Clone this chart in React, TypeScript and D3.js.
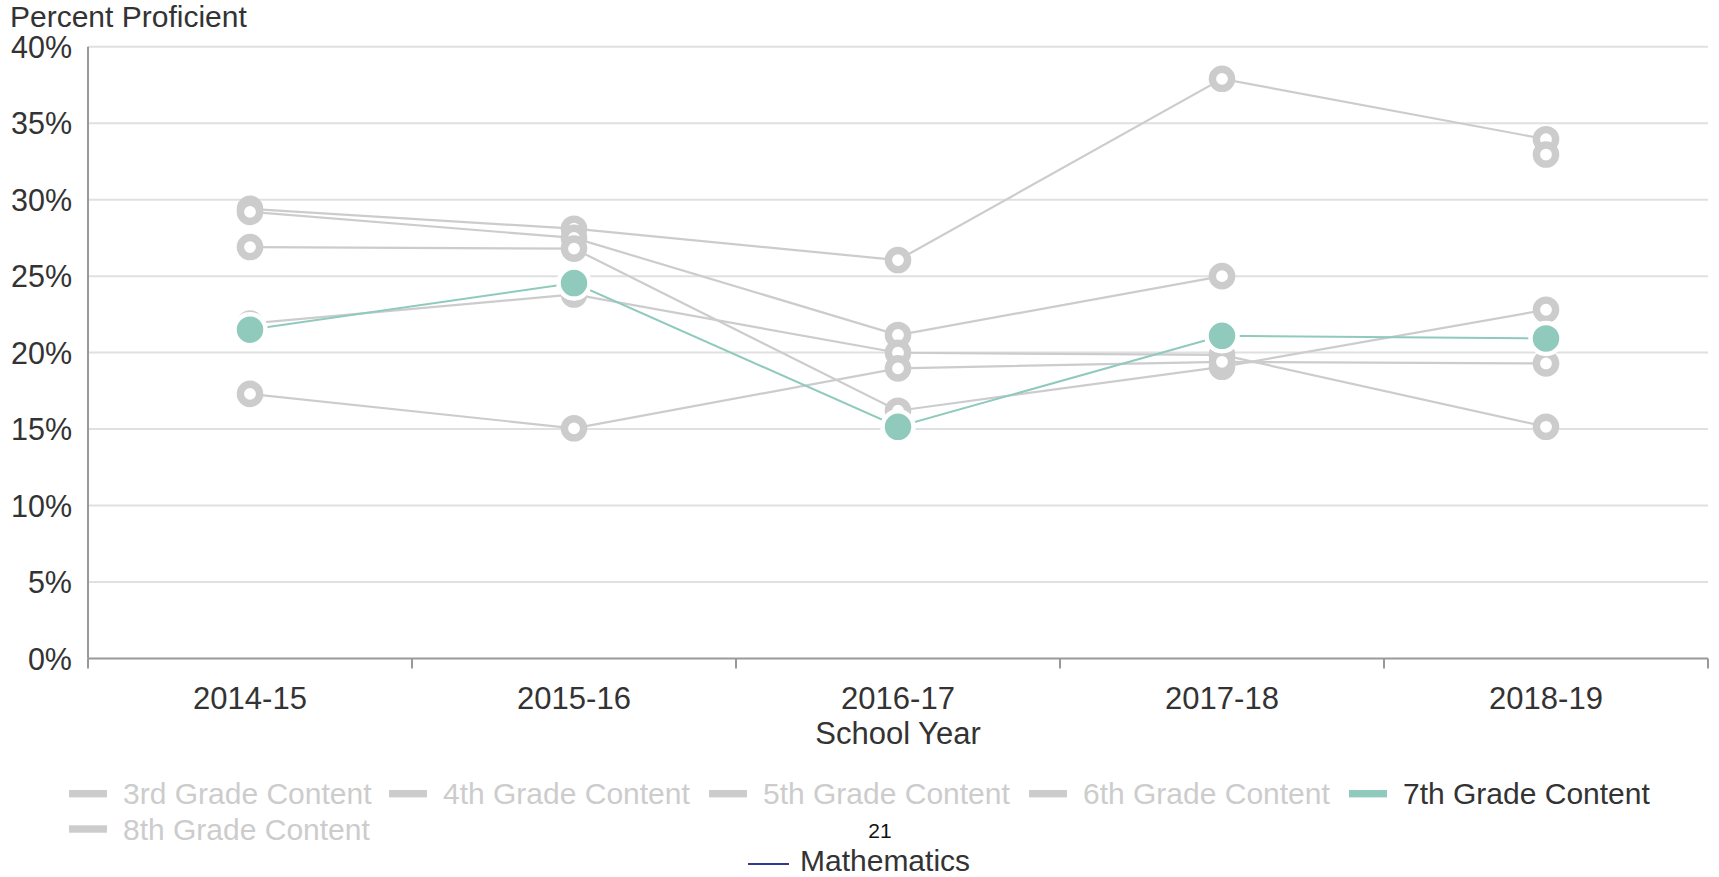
import React from "react";
import * as d3 from "d3";

const years = ["2014-15", "2015-16", "2016-17", "2017-18", "2018-19"];
const seriesNames = [
  "3rd Grade Content",
  "4th Grade Content",
  "5th Grade Content",
  "6th Grade Content",
  "7th Grade Content",
  "8th Grade Content",
];
const grade3 = [29.4, 28.1, 26.05, 37.9, 33.95];
const grade4 = [29.2, 27.5, 21.15, 25.0, null];
const grade5 = [26.9, 26.8, 16.2, 19.07, 22.8];
const grade6 = [21.9, 23.8, 19.99, 19.85, 15.15];
const grade7 = [21.5, 24.55, 15.15, 21.1, 20.93];
const grade8 = [17.3, 15.05, 18.97, 19.4, 19.29];
const unlinkedPoint = [null, null, null, null, 32.95];
const yTicks = [0, 5, 10, 15, 20, 25, 30, 35, 40];
const activeIndex = 4;

const FONT = "'Liberation Sans', Arial, Helvetica, sans-serif";
const GREY = "#cccccc";
const TEAL = "#8fcabd";
const TEXT = "#333333";

type V = number | null;

export default function App() {
  const W = 1719;
  const H = 877;
  const left = 88;
  const right = 1708;
  const top = 46.7;
  const bottom = 658.5;

  const x = d3.scaleBand<string>().domain(years).range([left, right]).padding(0);
  const y = d3.scaleLinear().domain([0, 40]).range([bottom, top]);
  const cx = (yr: string) => (x(yr) as number) + x.bandwidth() / 2;

  const allSeries: V[][] = [grade3, grade4, grade5, grade6, grade7, grade8];
  const lineGen = d3
    .line<[string, V]>()
    .defined((d) => d[1] != null)
    .x((d) => cx(d[0]))
    .y((d) => y(d[1] as number));

  const pairs = (vals: V[]) => years.map((yr, i) => [yr, vals[i]] as [string, V]);

  const greyMarker = (yr: string, v: V, key: string) =>
    v == null ? null : (
      <circle key={key} cx={cx(yr)} cy={y(v)} r={9.6} fill="#ffffff" stroke={GREY} strokeWidth={7.4} />
    );

  const tickXs = [...years.map((yr) => x(yr) as number), right];

  const legendPitch = 320;
  const legendItems = seriesNames.map((name, i) => {
    const row = i < 5 ? 0 : 1;
    const col = i < 5 ? i : i - 5;
    return { name, i, x: 69 + col * legendPitch, cy: row === 0 ? 793.7 : 829 };
  });

  return (
    <svg
      width={W}
      height={H}
      style={{ position: "absolute", left: 0, top: 0, background: "#fff" }}
      fontFamily={FONT}
    >
      <rect x={0} y={0} width={W} height={H} fill="#ffffff" />
      <text x={10} y={27} fontSize={30} fill={TEXT}>
        Percent Proficient
      </text>

      {/* gridlines */}
      {yTicks.map((t) =>
        t === 0 ? null : (
          <line key={"g" + t} x1={left} x2={right} y1={y(t)} y2={y(t)} stroke="#e0e0e0" strokeWidth={2} />
        )
      )}
      {/* y labels */}
      {yTicks.map((t) => (
        <text key={"yl" + t} x={72} y={y(t) + 11} fontSize={30.5} fill={TEXT} textAnchor="end">
          {t + "%"}
        </text>
      ))}
      {/* axes */}
      <line x1={left} x2={left} y1={top} y2={bottom} stroke="#999999" strokeWidth={2} />
      <line x1={left} x2={right} y1={bottom} y2={bottom} stroke="#999999" strokeWidth={2} />
      {tickXs.map((tx, i) => (
        <line key={"t" + i} x1={tx} x2={tx} y1={bottom} y2={bottom + 10} stroke="#999999" strokeWidth={2} />
      ))}
      {years.map((yr) => (
        <text key={"xl" + yr} x={cx(yr)} y={709} fontSize={31} fill={TEXT} textAnchor="middle">
          {yr}
        </text>
      ))}
      <text x={(left + right) / 2} y={744} fontSize={31} fill={TEXT} textAnchor="middle">
        School Year
      </text>

      {/* grey series */}
      {allSeries.map((vals, si) =>
        si === activeIndex ? null : (
          <g key={"s" + si}>
            <path d={lineGen(pairs(vals)) || ""} fill="none" stroke={GREY} strokeWidth={2.2} />
            {years.map((yr, i) => greyMarker(yr, vals[i], "m" + si + "-" + i))}
          </g>
        )
      )}
      <g>{years.map((yr, i) => greyMarker(yr, unlinkedPoint[i], "u" + i))}</g>

      {/* active series */}
      <g>
        <path d={lineGen(pairs(allSeries[activeIndex])) || ""} fill="none" stroke={TEAL} strokeWidth={2} />
        {years.map((yr, i) => {
          const v = allSeries[activeIndex][i];
          return v == null ? null : (
            <circle key={"a" + i} cx={cx(yr)} cy={y(v)} r={15.5} fill={TEAL} stroke="#ffffff" strokeWidth={4.5} />
          );
        })}
      </g>

      {/* legend */}
      {legendItems.map((it) => (
        <g key={"lg" + it.i}>
          <rect
            x={it.x}
            y={it.cy - 3.7}
            width={38}
            height={7.4}
            fill={it.i === activeIndex ? TEAL : GREY}
          />
          <text x={it.x + 54} y={it.cy + 10.5} fontSize={30} fill={it.i === activeIndex ? TEXT : GREY}>
            {it.name}
          </text>
        </g>
      ))}

      <text x={880} y={838} fontSize={21} fill="#111111" textAnchor="middle">
        21
      </text>
      <line x1={748} x2={789} y1={864} y2={864} stroke="#2e3a8c" strokeWidth={2} />
      <text x={800} y={871} fontSize={30} fill={TEXT}>
        Mathematics
      </text>
    </svg>
  );
}
